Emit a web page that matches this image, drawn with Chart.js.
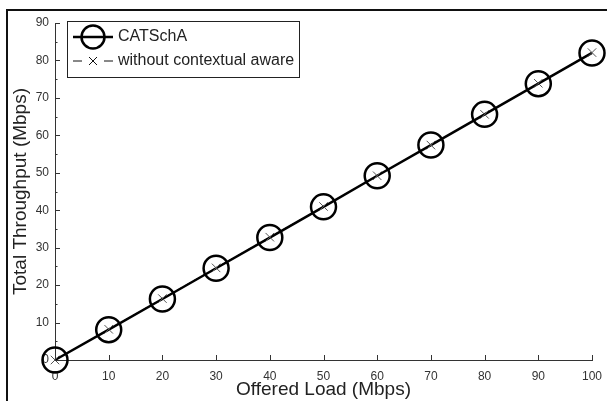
<!DOCTYPE html>
<html>
<head>
<meta charset="utf-8">
<script src="https://cdn.jsdelivr.net/npm/chart.js@4/dist/chart.umd.min.js"></script>
<style>
  html, body { margin: 0; padding: 0; background: #fff; }
  canvas { display: block; }
</style>
</head>
<body>
<canvas id="throughputChart" width="607" height="401"></canvas>
<script>
// Offered load on the x-axis (Mbps)
const offeredLoad = [0, 10, 20, 30, 40, 50, 60, 70, 80, 90, 100];
// Total throughput (Mbps) for each scheme
const catschaThroughput = [0, 8.1, 16.3, 24.5, 32.7, 40.9, 49.2, 57.4, 65.6, 73.8, 82.0];
const noContextThroughput = [0, 8.2, 16.4, 24.6, 32.8, 41.0, 49.2, 57.4, 65.6, 73.9, 82.1];
const seriesNames = ['CATSchA', 'without contextual aware'];
// y ticks every 5, labels only on the tens
const yTickLabels = ['0', '10', '20', '30', '40', '50', '60', '70', '80', '90'];

const FONT = 'Liberation Sans, Arial, Helvetica, sans-serif';
const INK = '#222';

const toPoints = ys => offeredLoad.map((x, i) => ({ x: x, y: ys[i] }));

// white page + the photo's frame lines (left and top edge)
const framePlugin = {
  id: 'frame',
  beforeDraw(chart) {
    const c = chart.ctx;
    c.save();
    c.fillStyle = '#fff';
    c.fillRect(0, 0, chart.width, chart.height);
    c.strokeStyle = '#111';
    c.lineWidth = 2;
    c.beginPath();
    c.moveTo(7, chart.height);
    c.lineTo(7, 10);
    c.lineTo(chart.width, 10);
    c.stroke();
    c.restore();
  }
};

// MATLAB style ticks pointing into the plot
const innerTicks = {
  id: 'innerTicks',
  afterDraw(chart) {
    const c = chart.ctx;
    const xs = chart.scales.x, ys = chart.scales.y;
    c.save();
    c.strokeStyle = '#333';
    c.lineWidth = 1;
    c.beginPath();
    xs.ticks.forEach(t => {
      const px = Math.round(xs.getPixelForValue(t.value)) + 0.5;
      c.moveTo(px, ys.bottom);
      c.lineTo(px, ys.bottom - 5);
    });
    ys.ticks.forEach(t => {
      const py = Math.round(ys.getPixelForValue(t.value)) + 0.5;
      const len = t.value % 10 === 0 ? 5 : 2.5;
      c.moveTo(xs.left, py);
      c.lineTo(xs.left + len, py);
    });
    c.stroke();
    c.restore();
  }
};

// legend box in the top left corner of the plot
const boxLegend = {
  id: 'boxLegend',
  afterDraw(chart) {
    const c = chart.ctx;
    const left = 67, top = 21, right = 299, bottom = 77;
    const rows = [37, 61];
    c.save();
    c.fillStyle = '#fff';
    c.fillRect(left, top, right - left, bottom - top);
    c.strokeStyle = INK;
    c.lineWidth = 1;
    c.strokeRect(left + 0.5, top + 0.5, right - left, bottom - top);

    // row 1: solid line with open circle
    c.strokeStyle = '#000';
    c.lineWidth = 2.5;
    c.beginPath();
    c.moveTo(73, rows[0]);
    c.lineTo(113, rows[0]);
    c.stroke();
    c.beginPath();
    c.arc(93, rows[0], 11.5, 0, Math.PI * 2);
    c.stroke();

    // row 2: dashed line with x marker
    c.lineWidth = 1;
    c.strokeStyle = '#111';
    c.beginPath();
    c.moveTo(73, rows[1]); c.lineTo(82, rows[1]);
    c.moveTo(104, rows[1]); c.lineTo(113, rows[1]);
    c.moveTo(89, rows[1] - 4); c.lineTo(97, rows[1] + 4);
    c.moveTo(97, rows[1] - 4); c.lineTo(89, rows[1] + 4);
    c.stroke();

    c.fillStyle = INK;
    c.font = '16px ' + FONT;
    c.textBaseline = 'middle';
    chart.data.datasets.forEach((ds, i) => {
      c.fillText(ds.label, 118, rows[i]);
    });
    c.restore();
  }
};

const ctx = document.getElementById('throughputChart').getContext('2d');
const throughputChart = new Chart(ctx, {
  type: 'line',
  data: {
    datasets: [{
      label: seriesNames[0],
      data: toPoints(catschaThroughput),
      borderColor: '#000',
      borderWidth: 2.5,
      pointStyle: 'circle',
      pointRadius: 12.5,
      pointBorderWidth: 2.5,
      pointBorderColor: '#000',
      pointBackgroundColor: 'rgba(0,0,0,0)',
      clip: false,
      order: 1
    }, {
      label: seriesNames[1],
      data: toPoints(noContextThroughput),
      borderColor: '#000',
      borderWidth: 1,
      borderDash: [6, 4],
      pointStyle: 'crossRot',
      pointRadius: 6,
      pointBorderWidth: 1,
      pointBorderColor: '#555',
      clip: false,
      order: 0
    }]
  },
  options: {
    responsive: false,
    animation: false,
    layout: { padding: { top: 23, right: 14, left: 0, bottom: 0 } },
    plugins: {
      legend: { display: false },
      tooltip: { enabled: false }
    },
    scales: {
      x: {
        type: 'linear',
        min: 0,
        max: 100,
        afterFit: s => {
          s.height = 41;
          s.paddingLeft = 0;
          s.paddingRight = 0;
        },
        grid: { display: false, drawTicks: false },
        border: { display: true, color: '#333', width: 1 },
        ticks: {
          stepSize: 10,
          padding: 9,
          color: '#333',
          font: { family: FONT, size: 12 }
        },
        title: {
          display: true,
          text: 'Offered Load (Mbps)',
          color: INK,
          font: { family: FONT, size: 19 },
          padding: { top: 0, bottom: 0 }
        }
      },
      y: {
        min: 0,
        max: 90,
        afterFit: s => {
          s.width = 55;
          s.paddingTop = 0;
          s.paddingBottom = 0;
        },
        grid: { display: false, drawTicks: false },
        border: { display: true, color: '#333', width: 1 },
        ticks: {
          stepSize: 5,
          autoSkip: false,
          padding: 6,
          color: '#333',
          font: { family: FONT, size: 12 },
          callback: v => (v % 10 === 0 ? yTickLabels[v / 10] : '')
        },
        title: {
          display: true,
          text: 'Total Throughput (Mbps)',
          color: INK,
          font: { family: FONT, size: 19 },
          padding: { top: 9, bottom: 0 }
        }
      }
    }
  },
  plugins: [framePlugin, innerTicks, boxLegend]
});
</script>
</body>
</html>
